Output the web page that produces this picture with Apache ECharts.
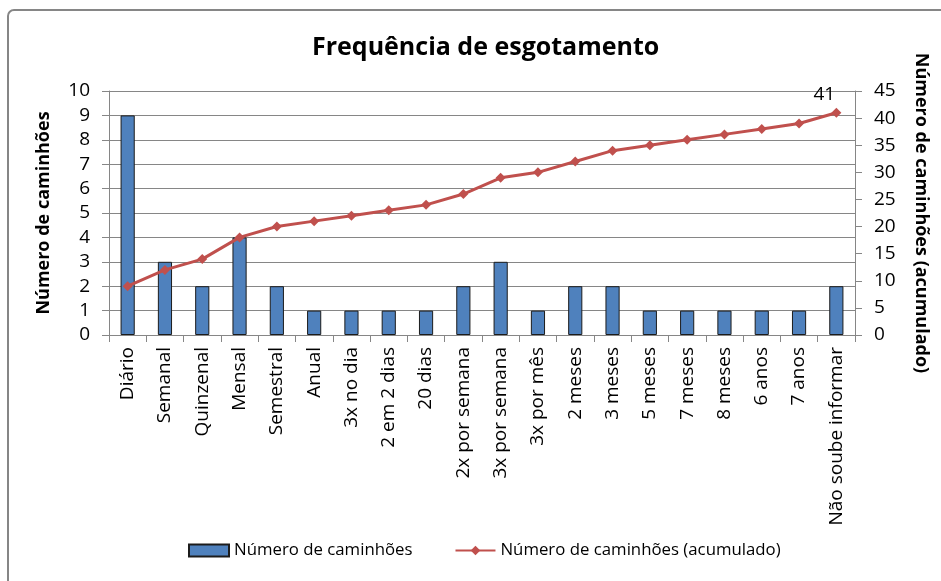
<!DOCTYPE html>
<html>
<head>
<meta charset="utf-8">
<script src="https://cdn.jsdelivr.net/npm/echarts@6/dist/echarts.min.js"></script>
<style>html,body{margin:0;padding:0;background:#fff}#c{width:941px;height:581px}</style>
</head>
<body>
<div id="c"></div>
<script>
var categories = ['Diário','Semanal','Quinzenal','Mensal','Semestral','Anual','3x no dia','2 em 2 dias','20 dias','2x por semana','3x por semana','3x por mês','2 meses','3 meses','5 meses','7 meses','8 meses','6 anos','7 anos','Não soube informar'];
var counts = [9,3,2,4,2,1,1,1,1,2,3,1,2,2,1,1,1,1,1,2];
var cumulative = [9,12,14,18,20,21,22,23,24,26,29,30,32,34,35,36,37,38,39,41];
var seriesNames = ['Número de caminhões','Número de caminhões (acumulado)'];

var FONT = 'Open Sans';
var chart = echarts.init(document.getElementById('c'), null, {renderer:'canvas'});
chart.setOption({
  animation:false,
  textStyle:{fontFamily:FONT},
  title:{text:'Frequência de esgotamento',left:307,top:30,textStyle:{fontFamily:FONT,fontSize:25,fontWeight:'bold',color:'#000'}},
  graphic:[{type:'rect',shape:{x:8,y:10,width:1000,height:700,r:6},style:{fill:null,stroke:'#868686',lineWidth:2},silent:true}],
  grid:{left:109,right:86,top:91,bottom:246,containLabel:false},
  legend:{bottom:17,left:183,itemGap:42,itemWidth:40,itemHeight:12,textStyle:{fontFamily:FONT,fontSize:16.8,color:'#000'},
    data:[{name:seriesNames[0],icon:'rect'},{name:seriesNames[1]}]},
  xAxis:{type:'category',data:categories,
    axisLine:{lineStyle:{color:'#868686'}},
    axisTick:{show:true,length:7,lineStyle:{color:'#868686'}},
    axisLabel:{rotate:90,interval:0,fontSize:19,color:'#000',fontFamily:FONT,margin:12}},
  yAxis:[
    {type:'value',min:0,max:10,interval:1,name:seriesNames[0],nameLocation:'middle',nameGap:56,
     nameTextStyle:{fontSize:18,fontWeight:'bold',color:'#000',fontFamily:FONT},
     axisLine:{show:true,lineStyle:{color:'#868686'}},axisTick:{show:true,length:7,lineStyle:{color:'#868686'}},
     axisLabel:{fontSize:19,color:'#000',fontFamily:FONT,margin:19},
     splitLine:{lineStyle:{color:'#868686'}}},
    {type:'value',min:0,max:45,interval:5,name:seriesNames[1],nameLocation:'middle',nameGap:57,nameRotate:-90,
     nameTextStyle:{fontSize:18,fontWeight:'bold',color:'#000',fontFamily:FONT},
     axisLine:{show:true,lineStyle:{color:'#868686'}},axisTick:{show:true,length:7,lineStyle:{color:'#868686'}},
     axisLabel:{fontSize:19,color:'#000',fontFamily:FONT,margin:19},
     splitLine:{show:false}}
  ],
  series:[
    {name:seriesNames[0],type:'bar',data:counts,barWidth:'38%',yAxisIndex:0,
     itemStyle:{color:'#4F81BD',borderColor:'#1c1c1c',borderWidth:1}},
    {name:seriesNames[1],type:'line',data:cumulative,yAxisIndex:1,symbol:'diamond',symbolSize:10,
     lineStyle:{color:'#C0504D',width:3},itemStyle:{color:'#C0504D'},
     label:{show:true,position:'top',distance:4,offset:[-12,0],fontSize:19,color:'#000',fontFamily:FONT,
       formatter:function(p){return p.dataIndex===cumulative.length-1?p.value:'';}}}
  ]
});
</script>
</body>
</html>
